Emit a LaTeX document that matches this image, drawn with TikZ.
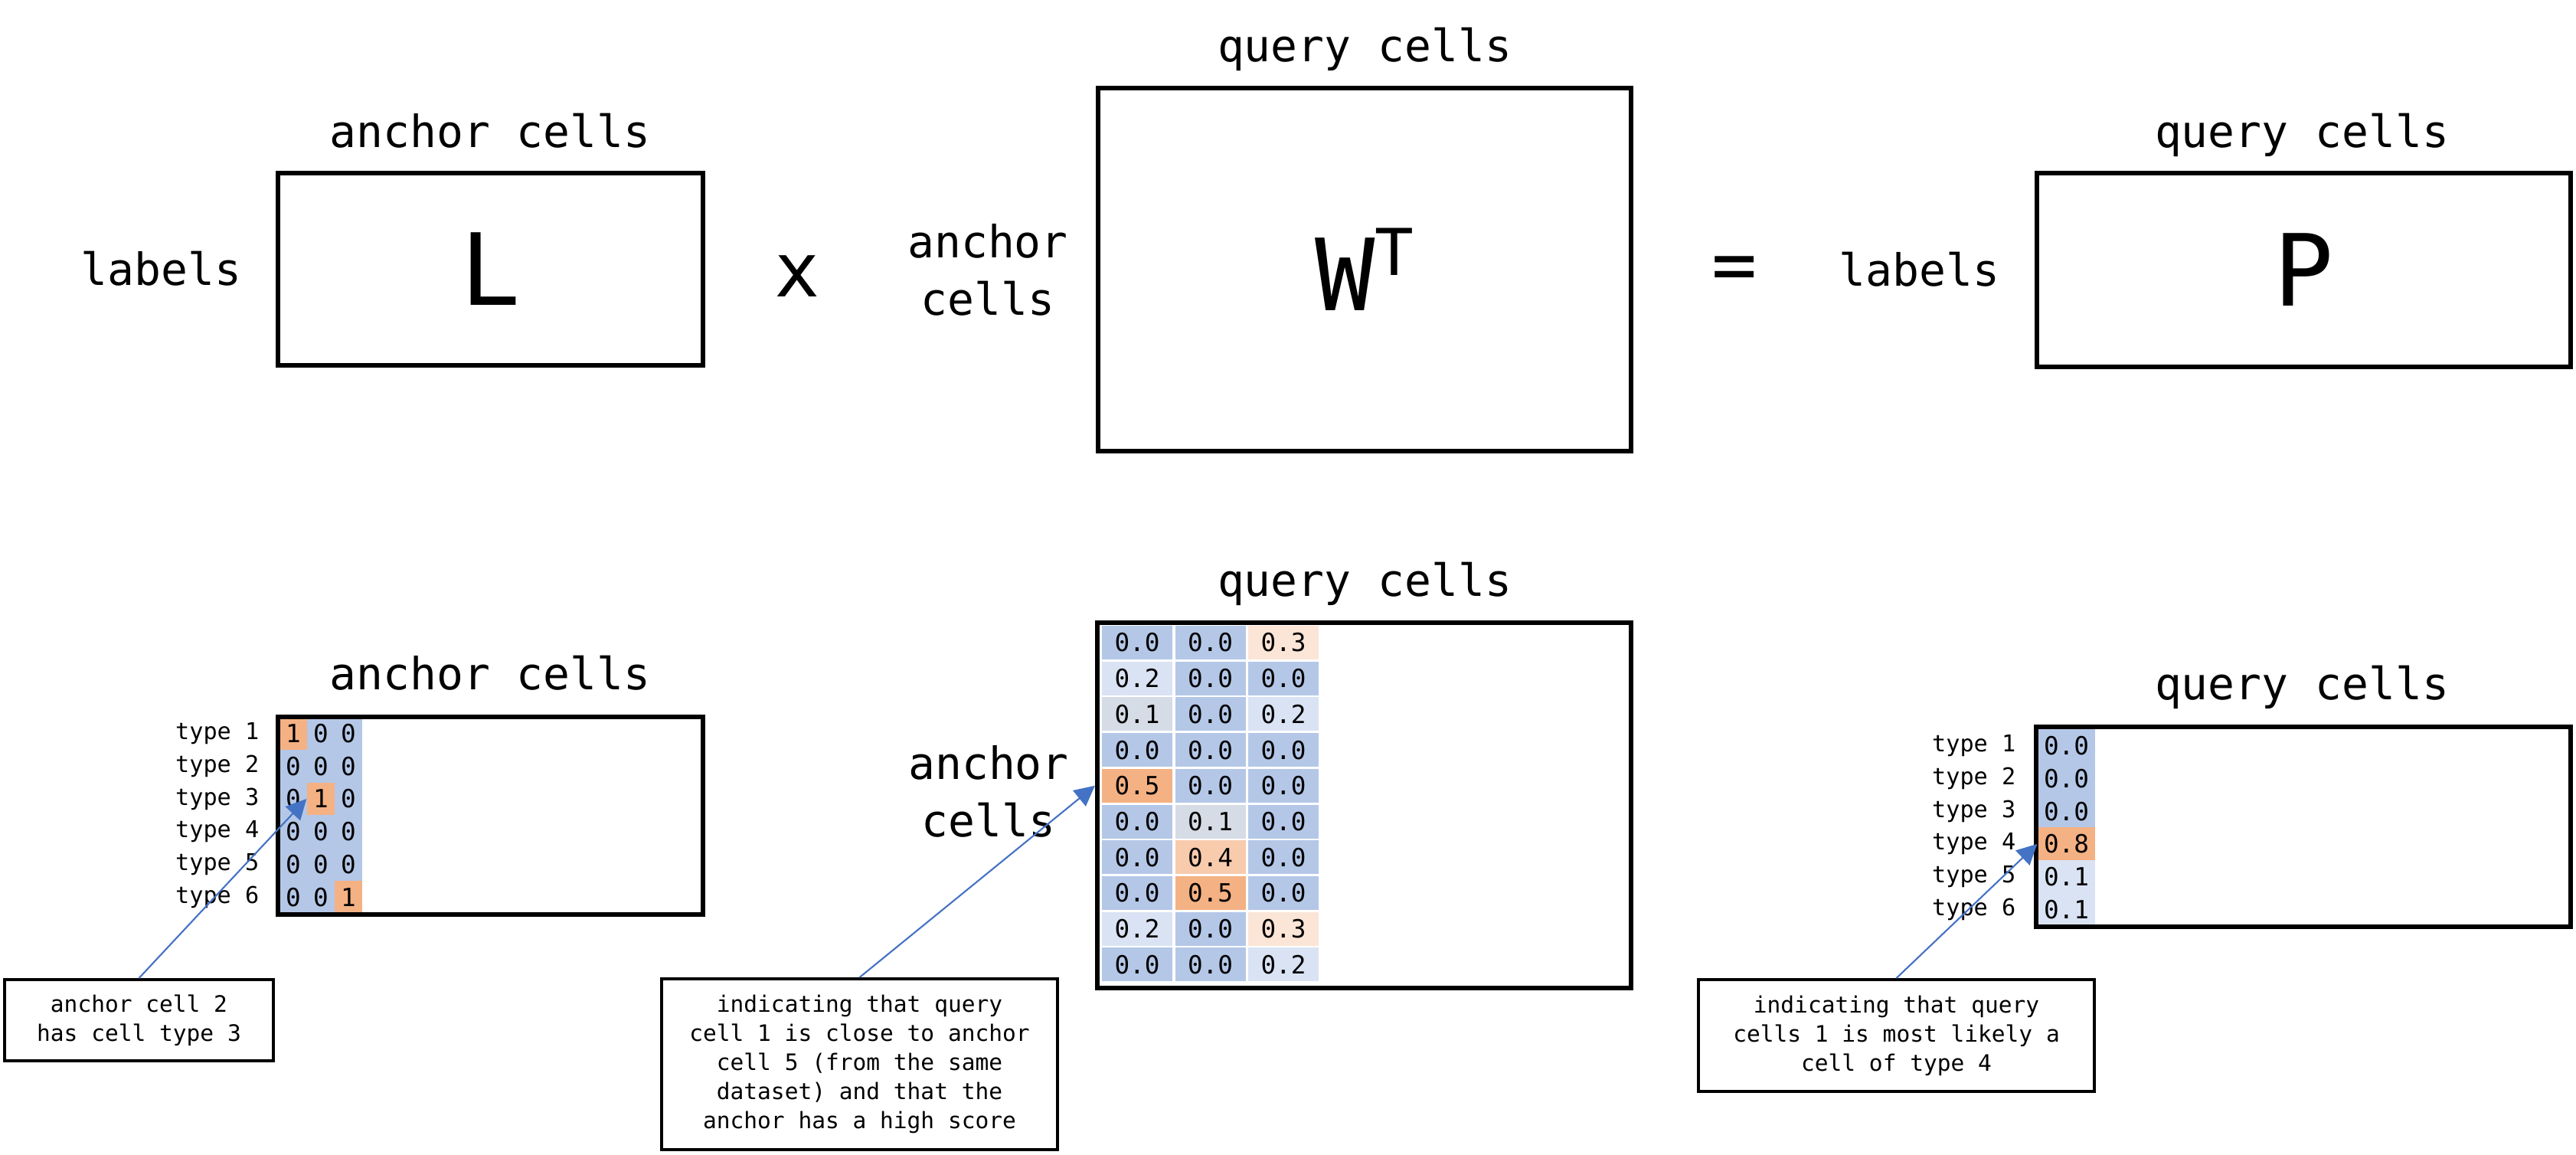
\documentclass[tikz,border=0pt]{standalone}
\usepackage{fontspec}
\setmainfont{DejaVu Sans Mono}
\usepackage{xcolor}
\usepackage{tikz}
\usetikzlibrary{arrows.meta,calc,positioning}
\definecolor{ink}{HTML}{000000}
\definecolor{pointer}{HTML}{4472C4}
\definecolor{v0}{HTML}{B4C7E7}
\definecolor{v1}{HTML}{D6DCE5}
\definecolor{v2}{HTML}{DAE3F3}
\definecolor{v3}{HTML}{FBE5D6}
\definecolor{v4}{HTML}{F8CBAD}
\definecolor{v5}{HTML}{F4B183}
\colorlet{l0}{v0}
\colorlet{l1}{v5}
\tikzset{
 mat/.style={draw=ink,line width=1.8pt,inner sep=0pt},
 lbl/.style={inner sep=0pt,font=\fontsize{16.5}{21.3}\selectfont},
 big/.style={inner sep=0pt,font=\fontsize{37}{40}\selectfont},
 op/.style={inner sep=0pt,font=\fontsize{28}{30}\selectfont},
 cell/.style={inner sep=0pt,font=\fontsize{9.3}{10}\selectfont},
 tlbl/.style={inner sep=0pt,anchor=east,font=\fontsize{8.6}{10}\selectfont},
 callout/.style={draw=ink,line width=1.1pt,align=center,inner sep=0pt,font=\fontsize{8.4}{10.8}\selectfont},
 ptr/.style={pointer,line width=0.6pt,-{Triangle[length=7.5pt,width=7.5pt]}},
}

\begin{document}
\begin{tikzpicture}[x=1cm,y=-1cm]
\useasboundingbox (0,0) rectangle (33.64,15.07);
% top row: L x W^T = P
\node[mat,big,minimum width=5.55cm,minimum height=2.51cm] (ltop) at (6.405,3.515) {L};
\node[mat,big,minimum width=6.96cm,minimum height=4.74cm] (wtop) at (17.82,3.52) {W\raisebox{0.35em}{\fontsize{24}{24}\selectfont T}};
\node[mat,big,minimum width=6.97cm,minimum height=2.53cm] (ptop) at (30.085,3.525) {P};
\node[lbl,anchor=base] (ltopcols) at (6.40,1.92) {anchor cells};
\node[lbl,anchor=base east] (ltoprows) at (3.16,3.72) {labels};
\node[op,anchor=base] (times) at (10.41,3.87) {x};
\node[lbl,anchor=base] (wtoprows) at (12.90,3.36) {anchor};
\node[lbl,anchor=base] (wtoprows2) at (12.90,4.11) {cells};
\node[lbl,anchor=base] (wtopcols) at (17.82,0.81) {query cells};
\node[op] (equals) at (22.65,3.57) {=};
\node[lbl,anchor=base east] (ptoprows) at (26.12,3.73) {labels};
\node[lbl,anchor=base] (ptopcols) at (30.06,1.92) {query cells};
% bottom row: L, one-hot labels
\foreach \r/\a/\b/\c in {1/1/0/0,2/0/0/0,3/0/1/0,4/0/0/0,5/0/0/0,6/0/0/1} {
 \node[tlbl] (ltype\r) at (3.39,9.146+0.428*\r) {type \r};
 \foreach \d [count=\k] in {\a,\b,\c}
  \node[cell,fill=l\d,minimum width=0.36cm,minimum height=0.428cm] (l-\r-\k) at (3.47+0.36*\k,9.146+0.428*\r) {\d};
}
% bottom row: W^T, scores
\foreach \r/\a/\b/\c in {1/0/0/3,2/2/0/0,3/1/0/2,4/0/0/0,5/5/0/0,6/0/1/0,7/0/4/0,8/0/5/0,9/2/0/3,10/0/0/2} {
 \foreach \d [count=\k] in {\a,\b,\c}
  \node[cell,fill=v\d,minimum width=0.92cm,minimum height=0.44cm] (w-\r-\k) at (13.895+0.955*\k,7.923+0.467*\r) {0.\d};
}
% bottom row: P, predictions
\foreach \r/\d/\f in {1/0/v0,2/0/v0,3/0/v0,4/8/v5,5/1/v2,6/1/v2} {
 \node[tlbl] (ptype\r) at (26.33,9.306+0.4283*\r) {type \r};
 \node[cell,fill=\f,minimum width=0.75cm,minimum height=0.43cm] (p-\r-1) at (26.985,9.306+0.4283*\r) {0.\d};
}
\node[mat,minimum width=5.55cm,minimum height=2.58cm] (lbot) at (6.405,10.65) {};
\node[mat,minimum width=6.97cm,minimum height=4.77cm] (wbot) at (17.815,10.515) {};
\node[mat,minimum width=6.98cm,minimum height=2.61cm] (pbot) at (30.08,10.795) {};
\node[lbl,anchor=base] (lbotcols) at (6.40,9.00) {anchor cells};
\node[lbl,anchor=base] (wbotcols) at (17.82,7.78) {query cells};
\node[lbl,anchor=base] (wbotrows) at (12.91,10.17) {anchor};
\node[lbl,anchor=base] (wbotrows2) at (12.91,10.92) {cells};
\node[lbl,anchor=base] (pbotcols) at (30.06,9.13) {query cells};
% callouts
\node[callout,minimum width=3.51cm,minimum height=1.06cm] (ltip) at (1.815,13.32) {anchor cell 2\\has cell type 3};
\node[callout,minimum width=5.17cm,minimum height=2.23cm] (wtip) at (11.225,13.895) {indicating that query\\cell 1 is close to anchor\\cell 5 (from the same\\dataset) and that the\\anchor has a high score};
\node[callout,minimum width=5.17cm,minimum height=1.46cm] (ptip) at (24.765,13.52) {indicating that query\\cells 1 is most likely a\\cell of type 4};
\draw[ptr] (ltip.north) -- (l-3-2.west);
\draw[ptr] (wtip.north) -- (wbot.west |- w-5-1.west);
\draw[ptr] (ptip.north) -- (p-4-1.west);
\end{tikzpicture}
\end{document}
